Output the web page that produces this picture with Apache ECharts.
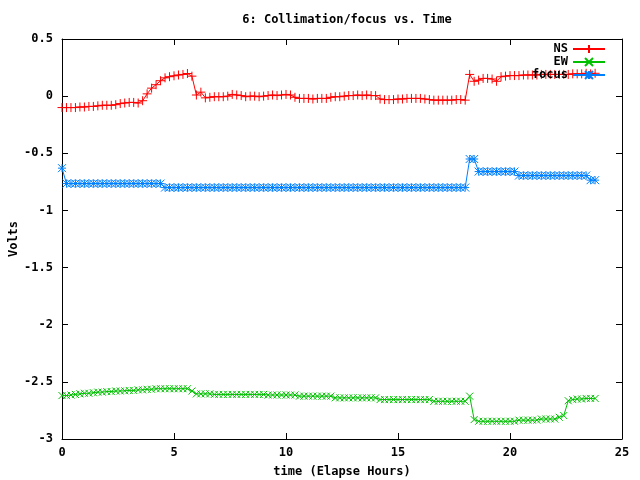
<!DOCTYPE html>
<html>
<head>
<meta charset="utf-8">
<script src="https://cdn.jsdelivr.net/npm/echarts@6/dist/echarts.min.js"></script>
<style>
  html, body { margin: 0; padding: 0; background: #fff; }
  #chart { width: 640px; height: 480px; }
</style>
</head>
<body>
<div id="chart"></div>
<script>
// elapsed time in hours, one sample every 0.2 h
const hours = [
  0.0, 0.2, 0.4, 0.6, 0.8, 1.0, 1.2, 1.4, 1.6, 1.8,
  2.0, 2.2, 2.4, 2.6, 2.8, 3.0, 3.2, 3.4, 3.6, 3.8,
  4.0, 4.2, 4.4, 4.6, 4.8, 5.0, 5.2, 5.4, 5.6, 5.8,
  6.0, 6.2, 6.4, 6.6, 6.8, 7.0, 7.2, 7.4, 7.6, 7.8,
  8.0, 8.2, 8.4, 8.6, 8.8, 9.0, 9.2, 9.4, 9.6, 9.8,
  10.0, 10.2, 10.4, 10.6, 10.8, 11.0, 11.2, 11.4, 11.6, 11.8,
  12.0, 12.2, 12.4, 12.6, 12.8, 13.0, 13.2, 13.4, 13.6, 13.8,
  14.0, 14.2, 14.4, 14.6, 14.8, 15.0, 15.2, 15.4, 15.6, 15.8,
  16.0, 16.2, 16.4, 16.6, 16.8, 17.0, 17.2, 17.4, 17.6, 17.8,
  18.0, 18.2, 18.4, 18.6, 18.8, 19.0, 19.2, 19.4, 19.6, 19.8,
  20.0, 20.2, 20.4, 20.6, 20.8, 21.0, 21.2, 21.4, 21.6, 21.8,
  22.0, 22.2, 22.4, 22.6, 22.8, 23.0, 23.2, 23.4, 23.6, 23.8
];

const nsVolts = [
  -0.10, -0.10, -0.10, -0.10, -0.095, -0.095, -0.09, -0.09, -0.085, -0.08,
  -0.08, -0.08, -0.075, -0.065, -0.06, -0.055, -0.055, -0.06, -0.04, 0.02,
  0.07, 0.10, 0.135, 0.16, 0.17, 0.178, 0.185, 0.19, 0.198, 0.175,
  0.01, 0.035, -0.015, -0.01, -0.005, -0.005, -0.005, 0.0, 0.015, 0.01,
  0.005, -0.005, 0.0, 0.0, -0.005, 0.0, 0.005, 0.01, 0.005, 0.01,
  0.015, 0.01, -0.01, -0.02, -0.02, -0.02, -0.025, -0.02, -0.02, -0.02,
  -0.01, -0.005, -0.005, 0.0, 0.005, 0.005, 0.01, 0.005, 0.01, 0.005,
  0.005, -0.025, -0.03, -0.03, -0.03, -0.025, -0.025, -0.02, -0.02, -0.02,
  -0.02, -0.025, -0.03, -0.035, -0.035, -0.035, -0.035, -0.035, -0.03, -0.03,
  -0.035, 0.19, 0.13, 0.14, 0.155, 0.155, 0.15, 0.13, 0.17, 0.175,
  0.18, 0.18, 0.18, 0.185, 0.185, 0.185, 0.185, 0.19, 0.19, 0.19,
  0.19, 0.19, 0.19, 0.19, 0.195, 0.195, 0.195, 0.2, 0.195, 0.2
];

const ewVolts = [
  -2.62, -2.62, -2.615, -2.61, -2.605, -2.60, -2.60, -2.595, -2.59, -2.59,
  -2.585, -2.585, -2.58, -2.58, -2.578, -2.575, -2.575, -2.57, -2.57, -2.565,
  -2.565, -2.56, -2.56, -2.56, -2.56, -2.56, -2.56, -2.56, -2.56, -2.58,
  -2.605, -2.605, -2.605, -2.605, -2.61, -2.61, -2.61, -2.61, -2.61, -2.61,
  -2.61, -2.61, -2.61, -2.61, -2.61, -2.61, -2.615, -2.615, -2.615, -2.615,
  -2.615, -2.615, -2.615, -2.625, -2.625, -2.625, -2.625, -2.625, -2.625, -2.625,
  -2.625, -2.64, -2.64, -2.64, -2.64, -2.64, -2.64, -2.64, -2.64, -2.64,
  -2.64, -2.655, -2.655, -2.655, -2.655, -2.655, -2.655, -2.655, -2.655, -2.655,
  -2.655, -2.655, -2.655, -2.67, -2.67, -2.67, -2.67, -2.67, -2.67, -2.67,
  -2.67, -2.625, -2.83, -2.845, -2.845, -2.845, -2.845, -2.845, -2.845, -2.845,
  -2.845, -2.845, -2.835, -2.835, -2.835, -2.835, -2.835, -2.825, -2.825, -2.825,
  -2.825, -2.81, -2.795, -2.665, -2.655, -2.65, -2.65, -2.645, -2.645, -2.645
];

const focusVolts = [
  -0.63, -0.765, -0.765, -0.765, -0.765, -0.765, -0.765, -0.765, -0.765, -0.765,
  -0.765, -0.765, -0.765, -0.765, -0.765, -0.765, -0.765, -0.765, -0.765, -0.765,
  -0.765, -0.765, -0.765, -0.80, -0.80, -0.80, -0.80, -0.80, -0.80, -0.80,
  -0.80, -0.80, -0.80, -0.80, -0.80, -0.80, -0.80, -0.80, -0.80, -0.80,
  -0.80, -0.80, -0.80, -0.80, -0.80, -0.80, -0.80, -0.80, -0.80, -0.80,
  -0.80, -0.80, -0.80, -0.80, -0.80, -0.80, -0.80, -0.80, -0.80, -0.80,
  -0.80, -0.80, -0.80, -0.80, -0.80, -0.80, -0.80, -0.80, -0.80, -0.80,
  -0.80, -0.80, -0.80, -0.80, -0.80, -0.80, -0.80, -0.80, -0.80, -0.80,
  -0.80, -0.80, -0.80, -0.80, -0.80, -0.80, -0.80, -0.80, -0.80, -0.80,
  -0.80, -0.55, -0.55, -0.66, -0.66, -0.66, -0.66, -0.66, -0.66, -0.66,
  -0.66, -0.66, -0.695, -0.695, -0.695, -0.695, -0.695, -0.695, -0.695, -0.695,
  -0.695, -0.695, -0.695, -0.695, -0.695, -0.695, -0.695, -0.695, -0.735, -0.735
];

const font = 'DejaVu Sans Mono';

// gnuplot style point markers
const plusMark = 'path://M0,5L10,5M5,0L5,10';
const crossMark = 'path://M0,0L10,10M10,0L0,10';
const starMark = 'path://M0,5L10,5M5,0L5,10M0,0L10,10M10,0L0,10';

function pairs(ys) {
  return hours.map((h, i) => [h, ys[i]]);
}

function makeSeries(name, ys, color, mark, size) {
  return {
    name: name,
    type: 'line',
    data: pairs(ys),
    symbol: mark,
    symbolSize: size,
    showSymbol: true,
    showAllSymbol: true,
    lineStyle: { width: 1, color: color },
    itemStyle: { color: color, borderColor: color, borderWidth: 1 },
    emphasis: { disabled: true }
  };
}

const chart = echarts.init(document.getElementById('chart'));

const axisText = { color: '#000', fontFamily: font, fontWeight: 'bold', fontSize: 12 };
const frame = { show: true, onZero: false, lineStyle: { color: '#000', width: 1 } };
const ticks = { inside: true, length: 6, lineStyle: { color: '#000' } };

chart.setOption({
  animation: false,
  backgroundColor: '#fff',
  title: {
    text: '6: Collimation/focus vs. Time',
    left: 342,
    textAlign: 'center',
    top: 9,
    textStyle: { color: '#000', fontFamily: font, fontWeight: 'bold', fontSize: 12 }
  },
  legend: {
    orient: 'vertical',
    right: 34,
    top: 43,
    padding: 0,
    align: 'right',
    itemWidth: 32,
    itemHeight: 10,
    itemGap: 1,
    textStyle: { color: '#000', fontFamily: font, fontWeight: 'bold', fontSize: 12, lineHeight: 10 },
    data: ['NS', 'EW', 'focus']
  },
  grid: { left: 62, right: 18, top: 39, bottom: 41, outerBoundsMode: 'none' },
  xAxis: [{
    type: 'value',
    min: 0,
    max: 25,
    interval: 5,
    name: 'time (Elapse Hours)',
    nameLocation: 'middle',
    nameGap: 27,
    nameMoveOverlap: false,
    nameTextStyle: axisText,
    axisLine: frame,
    axisTick: ticks,
    axisLabel: Object.assign({ margin: 8 }, axisText),
    splitLine: { show: false }
  }, {
    type: 'value',
    position: 'top',
    min: 0,
    max: 25,
    interval: 5,
    axisLine: frame,
    axisTick: ticks,
    axisLabel: { show: false },
    splitLine: { show: false }
  }],
  yAxis: [{
    type: 'value',
    min: -3,
    max: 0.5,
    interval: 0.5,
    name: 'Volts',
    nameLocation: 'middle',
    nameGap: 42,
    nameMoveOverlap: false,
    nameRotate: 90,
    nameTextStyle: axisText,
    axisLine: frame,
    axisTick: ticks,
    axisLabel: Object.assign({ margin: 9 }, axisText),
    splitLine: { show: false }
  }, {
    type: 'value',
    position: 'right',
    min: -3,
    max: 0.5,
    interval: 0.5,
    axisLine: frame,
    axisTick: ticks,
    axisLabel: { show: false },
    splitLine: { show: false }
  }],
  series: [
    makeSeries('NS', nsVolts, '#ff0000', plusMark, 9),
    makeSeries('EW', ewVolts, '#00c000', crossMark, 7),
    makeSeries('focus', focusVolts, '#0080ff', starMark, 8)
  ]
});
</script>
</body>
</html>
